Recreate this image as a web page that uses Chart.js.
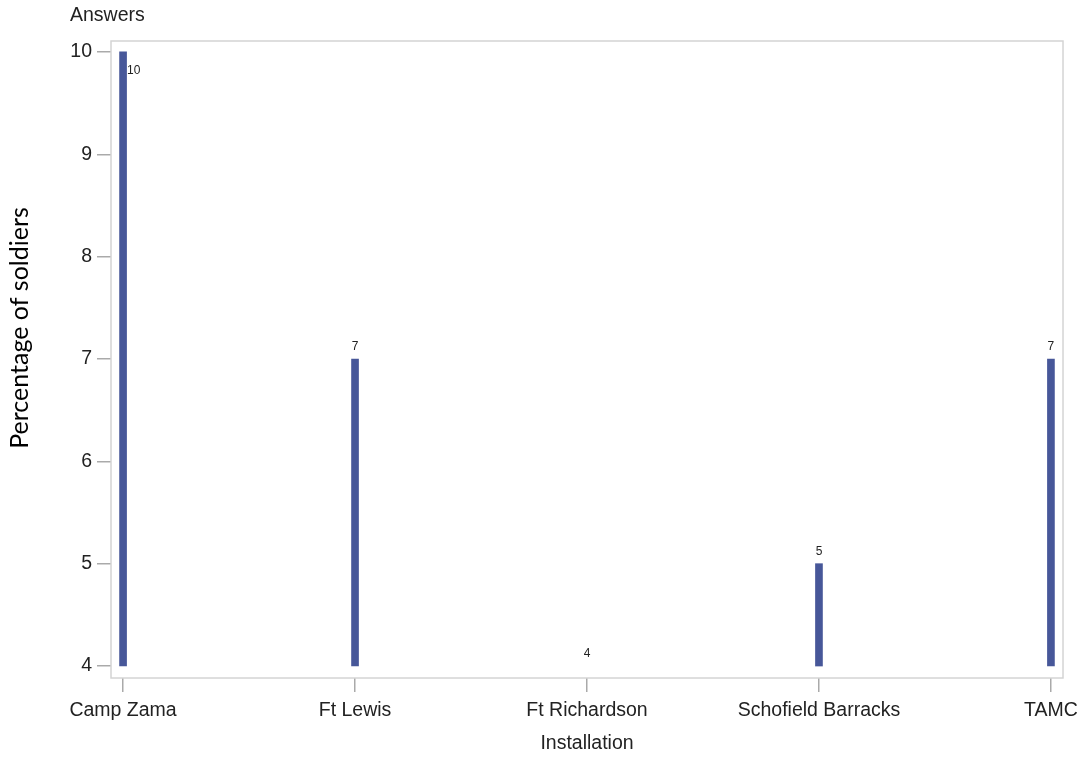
<!DOCTYPE html>
<html>
<head>
<meta charset="utf-8">
<script src="https://cdn.jsdelivr.net/npm/chart.js@4"></script>
<style>
  html, body { margin: 0; padding: 0; background: #fff; }
  #wrap { width: 1083px; height: 761px; position: relative; }
</style>
</head>
<body>
<div id="wrap"><canvas id="chart"></canvas></div>
<script>
// chart data
const installations = ['Camp Zama', 'Ft Lewis', 'Ft Richardson', 'Schofield Barracks', 'TAMC'];
const answers = [10, 7, 4, 5, 7];
const baseValue = 4;
const yTicks = [4, 5, 6, 7, 8, 9, 10];

const textColor = '#222222';
const barColor = '#475799';
const fontFamily = '"Liberation Sans", Arial, sans-serif';

// frame around the plot area, titles and the value labels
const decorations = {
  id: 'decorations',
  afterDatasetsDraw(chart) {
    const { ctx, chartArea } = chart;
    ctx.save();
    ctx.strokeStyle = '#d4d4d4';
    ctx.lineWidth = 1.5;
    ctx.strokeRect(chartArea.left, chartArea.top, chartArea.right - chartArea.left, chartArea.bottom - chartArea.top);

    ctx.fillStyle = textColor;
    ctx.font = '12px ' + fontFamily;
    const meta = chart.getDatasetMeta(0);
    meta.data.forEach((bar, i) => {
      const label = String(answers[i]);
      if (bar.y - 20 < chartArea.top) {
        ctx.textAlign = 'left';
        ctx.textBaseline = 'middle';
        ctx.fillText(label, bar.x + 4, bar.y + 19);
      } else {
        ctx.textAlign = 'center';
        ctx.textBaseline = 'bottom';
        ctx.fillText(label, bar.x, bar.y - 6);
      }
    });

    ctx.font = '19.5px ' + fontFamily;
    ctx.textAlign = 'left';
    ctx.textBaseline = 'middle';
    ctx.fillText('Answers', 70, 16);

    ctx.textAlign = 'center';
    ctx.fillText('Installation', (chartArea.left + chartArea.right) / 2, 744);

    ctx.translate(20, 328);
    ctx.rotate(-Math.PI / 2);
    ctx.font = '25px Lato, sans-serif';
    ctx.fillStyle = '#000';
    ctx.fillText('Percentage of soldiers', 0, 0);
    ctx.restore();
  }
};

new Chart(document.getElementById('chart'), {
  type: 'bar',
  data: {
    datasets: [{
      data: installations.map((name, i) => ({ x: i, y: [baseValue, answers[i]] })),
      backgroundColor: answers.map(v => v === baseValue ? 'rgba(0,0,0,0)' : barColor),
      borderWidth: 0,
      barThickness: 7
    }]
  },
  options: {
    responsive: true,
    maintainAspectRatio: false,
    animation: false,
    layout: { padding: { top: 41, right: 20, left: 0, bottom: 0 } },
    plugins: {
      legend: { display: false },
      tooltip: { enabled: false }
    },
    scales: {
      x: {
        type: 'linear',
        offset: false,
        min: -0.052,
        max: 4.052,
        afterBuildTicks: (scale) => { scale.ticks = installations.map((n, i) => ({ value: i })); },
        afterFit: (scale) => {
          scale.height = 83;
          scale.paddingLeft = 0;
          scale.paddingRight = 0;
        },
        border: { display: false },
        grid: { offset: false, drawOnChartArea: false, drawTicks: true, tickLength: 14, color: '#aaaaaa', lineWidth: 1.5 },
        ticks: {
          callback: (v) => installations[v],
          color: textColor,
          font: { family: fontFamily, size: 19.5 },
          padding: 7,
          maxRotation: 0,
          autoSkip: false
        }
      },
      y: {
        min: 3.883,
        max: 10.107,
        afterBuildTicks: (scale) => { scale.ticks = yTicks.map(v => ({ value: v })); },
        afterFit: (scale) => { scale.width = 111; },
        border: { display: false },
        grid: { drawOnChartArea: false, drawTicks: true, tickLength: 14, color: '#aaaaaa', lineWidth: 1.5 },
        ticks: {
          color: textColor,
          font: { family: fontFamily, size: 19.5 },
          padding: 5
        }
      }
    }
  },
  plugins: [decorations]
});
</script>
</body>
</html>
